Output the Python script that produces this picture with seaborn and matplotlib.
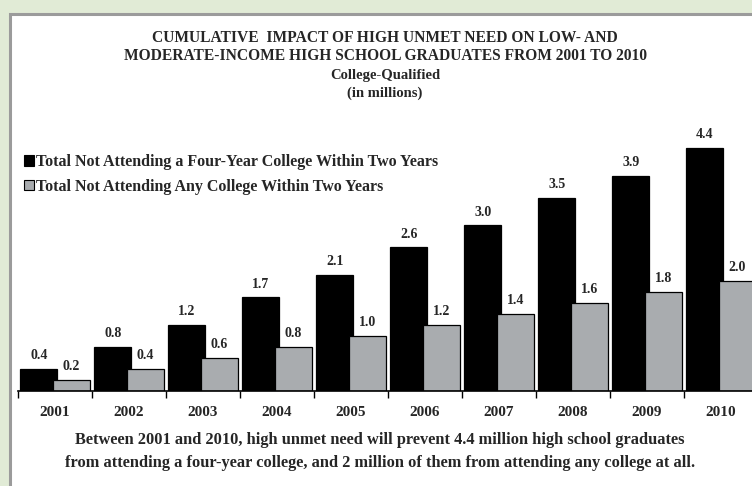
import numpy as np
import pandas as pd
import seaborn as sns
import matplotlib.pyplot as plt
from matplotlib.patches import Rectangle, Patch

# chart data
years = ["2001", "2002", "2003", "2004", "2005", "2006", "2007", "2008", "2009", "2010"]
four_year = [0.4, 0.8, 1.2, 1.7, 2.1, 2.6, 3.0, 3.5, 3.9, 4.4]
any_college = [0.2, 0.4, 0.6, 0.8, 1.0, 1.2, 1.4, 1.6, 1.8, 2.0]
series_names = ["Total Not Attending a Four-Year College Within Two Years",
                "Total Not Attending Any College Within Two Years"]
colors = ["#000000", "#a9acaf"]

df = pd.DataFrame({
    "year": years * 2,
    "value": four_year + any_college,
    "series": [series_names[0]] * len(years) + [series_names[1]] * len(years),
})

sns.set_style("white")
plt.rcParams["font.family"] = ["Liberation Serif", "DejaVu Serif"]
plt.rcParams["font.weight"] = "bold"

fig = plt.figure(figsize=(7.52, 4.86), dpi=100, facecolor="#e1ebd6")
W, H = 752, 486

# white panel with grey frame
fig.patches.append(Rectangle((9.5 / W, -0.05), 1.1, 1 - 13.5 / H + 0.05,
                             transform=fig.transFigure, facecolor="white",
                             edgecolor="#9b9b9b", linewidth=2.2, zorder=-5))

ax = fig.add_axes([18 / W, (H - 391) / H, 740 / W, 265 / H])
ax.set_facecolor("none")
ax.set_zorder(2)

sns.barplot(data=df, x="year", y="value", hue="series", palette=colors,
            width=0.88, edgecolor="black", linewidth=0.9, saturation=1,
            legend=False, ax=ax)

# widen bars a little so the grey bar overlaps the black one
for cont, vals in zip(ax.containers, [four_year, any_college]):
    for bar, v in zip(cont, vals):
        cx = bar.get_x() + bar.get_width() / 2
        bar.set_width(0.5)
        bar.set_x(cx - 0.25)
        ax.text(cx, v + 0.12, f"{v:.1f}", ha="center", va="bottom",
                fontsize=10, fontweight="bold")

ax.set_xlim(-0.5, 9.5)
ax.set_ylim(0, 4.8)
ax.set_xlabel("")
ax.set_ylabel("")
ax.set_yticks([])
sns.despine(ax=ax, left=True)
ax.spines["bottom"].set_color("black")
ax.spines["bottom"].set_linewidth(1.2)
ax.set_xticks(np.arange(len(years)))
ax.set_xticklabels(years, fontsize=11, fontweight="bold")
ax.set_xticks(np.arange(len(years)) - 0.5, minor=True)
ax.tick_params(axis="x", which="major", length=0, pad=11)
ax.tick_params(axis="x", which="minor", length=5, width=1, color="black",
               direction="out", bottom=True)

# legend
handles = [Patch(facecolor=c, edgecolor="black", linewidth=0.8) for c in colors]
fig.legend(handles, series_names, loc="upper left",
           bbox_to_anchor=(24 / W, 1 - 154 / H), frameon=False,
           borderpad=0, borderaxespad=0,
           handlelength=0.62, handleheight=0.62, handletextpad=0.1,
           labelspacing=0.55, prop={"size": 11.5, "weight": "bold"})

# titles
fig.text(385 / W, 1 - 38 / H, "CUMULATIVE  IMPACT OF HIGH UNMET NEED ON LOW- AND",
         ha="center", va="center", fontsize=11.2, fontweight="bold")
fig.text(385 / W, 1 - 56 / H, "MODERATE-INCOME HIGH SCHOOL GRADUATES FROM 2001 TO 2010",
         ha="center", va="center", fontsize=11.2, fontweight="bold")
fig.text(385 / W, 1 - 76 / H, "College-Qualified", ha="center", va="center",
         fontsize=10.5, fontweight="bold")
fig.text(385 / W, 1 - 93 / H, "(in millions)", ha="center", va="center",
         fontsize=10.5, fontweight="bold")

# caption
fig.text(380 / W, 1 - 440 / H,
         "Between 2001 and 2010, high unmet need will prevent 4.4 million high school graduates",
         ha="center", va="center", fontsize=11.8, fontweight="bold")
fig.text(380 / W, 1 - 463 / H,
         "from attending a four-year college, and 2 million of them from attending any college at all.",
         ha="center", va="center", fontsize=11.8, fontweight="bold")

fig.savefig("out.png", dpi=100, facecolor=fig.get_facecolor())
